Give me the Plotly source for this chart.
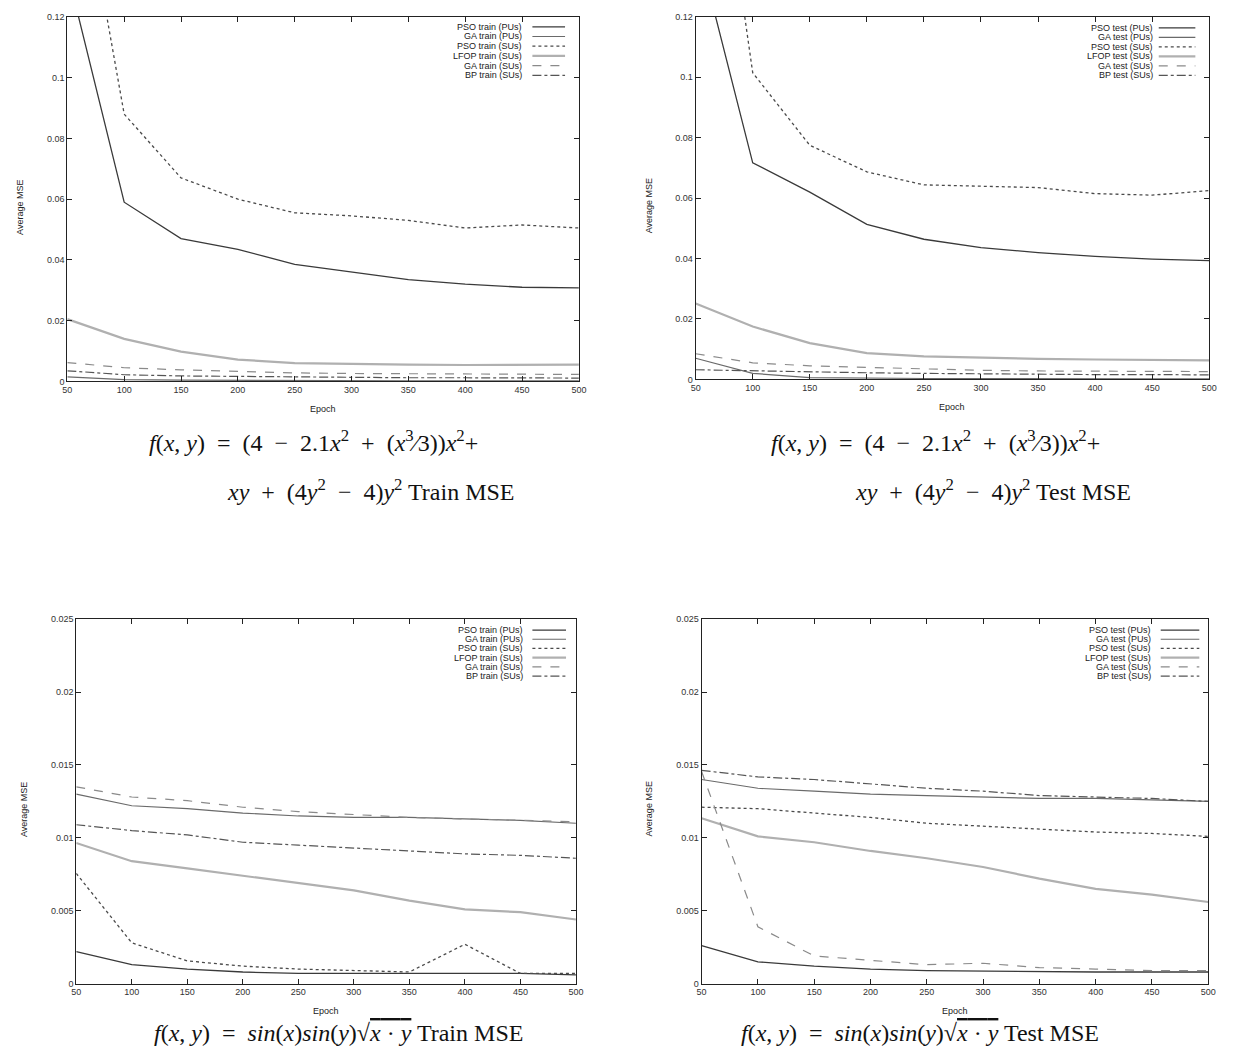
import plotly.graph_objects as go

W, H = 1237, 1057

epochs = [50, 100, 150, 200, 250, 300, 350, 400, 450, 500]
x_ticks = [50, 100, 150, 200, 250, 300, 350, 400, 450, 500]

top_y_ticks = [0, 0.02, 0.04, 0.06, 0.08, 0.1, 0.12]
top_y_text = ["0", "0.02", "0.04", "0.06", "0.08", "0.1", "0.12"]
bot_y_ticks = [0, 0.005, 0.01, 0.015, 0.02, 0.025]
bot_y_text = ["0", "0.005", "0.01", "0.015", "0.02", "0.025"]

# ---- Six-hump camel: train MSE ----
camel_train_pso_pu = [0.135, 0.059, 0.047, 0.0435, 0.0385, 0.036, 0.0335, 0.032, 0.031, 0.0308]
camel_train_ga_pu = [0.0015, 0.0006, 0.0004, 0.0003, 0.0003, 0.0002, 0.0002, 0.0002, 0.0002, 0.0002]
camel_train_pso_su = [0.193, 0.088, 0.067, 0.060, 0.0555, 0.0545, 0.053, 0.0505, 0.0515, 0.0505]
camel_train_lfop_su = [0.0205, 0.014, 0.0098, 0.0072, 0.006, 0.0057, 0.0055, 0.0054, 0.0054, 0.0055]
camel_train_ga_su = [0.0062, 0.0045, 0.0038, 0.0032, 0.0028, 0.0026, 0.0025, 0.0024, 0.0024, 0.0023]
camel_train_bp_su = [0.0035, 0.0022, 0.0018, 0.0016, 0.0014, 0.0013, 0.0012, 0.0012, 0.0011, 0.0011]

# ---- Six-hump camel: test MSE ----
camel_test_pso_pu = [0.146, 0.0717, 0.062, 0.0513, 0.0464, 0.0436, 0.042, 0.0407, 0.0398, 0.0393]
camel_test_ga_pu = [0.007, 0.002, 0.0006, 0.0004, 0.0003, 0.0003, 0.0002, 0.0002, 0.0002, 0.0002]
camel_test_pso_su = [0.234, 0.1015, 0.0775, 0.0687, 0.0644, 0.064, 0.0635, 0.0615, 0.061, 0.0625]
camel_test_lfop_su = [0.0251, 0.0175, 0.012, 0.0087, 0.0076, 0.0071, 0.0068, 0.0066, 0.0064, 0.0063]
camel_test_ga_su = [0.0085, 0.0055, 0.0045, 0.004, 0.0033, 0.003, 0.0028, 0.0027, 0.0026, 0.0026]
camel_test_bp_su = [0.0032, 0.0028, 0.0025, 0.0022, 0.002, 0.0018, 0.0017, 0.0016, 0.0016, 0.0015]

# ---- sin(x)sin(y)sqrt(xy): train MSE ----
sin_train_pso_pu = [0.0022, 0.0013, 0.001, 0.0008, 0.0007, 0.0007, 0.0007, 0.0007, 0.0007, 0.0006]
sin_train_ga_pu = [0.013, 0.0122, 0.012, 0.0117, 0.0115, 0.0114, 0.0114, 0.0113, 0.0112, 0.011]
sin_train_pso_su = [0.00756, 0.0028, 0.00156, 0.0012, 0.001, 0.0009, 0.0008, 0.0027, 0.0007, 0.0007]
sin_train_lfop_su = [0.00965, 0.0084, 0.0079, 0.0074, 0.0069, 0.0064, 0.0057, 0.0051, 0.0049, 0.0044]
sin_train_ga_su = [0.0135, 0.0128, 0.01255, 0.0121, 0.0118, 0.0116, 0.0114, 0.0113, 0.0112, 0.0111]
sin_train_bp_su = [0.0109, 0.0105, 0.0102, 0.0097, 0.0095, 0.0093, 0.0091, 0.0089, 0.0088, 0.0086]

# ---- sin(x)sin(y)sqrt(xy): test MSE ----
sin_test_pso_pu = [0.0026, 0.0015, 0.0012, 0.001, 0.0009, 0.00085, 0.0008, 0.0008, 0.0008, 0.0008]
sin_test_ga_pu = [0.014, 0.0134, 0.0132, 0.013, 0.0129, 0.0128, 0.0127, 0.0127, 0.0126, 0.0125]
sin_test_pso_su = [0.0121, 0.012, 0.0117, 0.0114, 0.011, 0.0108, 0.0106, 0.0104, 0.0103, 0.0101]
sin_test_lfop_su = [0.01134, 0.0101, 0.0097, 0.0091, 0.0086, 0.008, 0.0072, 0.0065, 0.0061, 0.0056]
sin_test_ga_su = [0.01455, 0.0039, 0.0019, 0.0016, 0.0013, 0.0014, 0.0011, 0.001, 0.0009, 0.0009]
sin_test_bp_su = [0.01463, 0.01418, 0.014, 0.0137, 0.0134, 0.0132, 0.0129, 0.0128, 0.0127, 0.0125]

train_names = ["PSO train (PUs)", "GA train (PUs)", "PSO train (SUs)",
               "LFOP train (SUs)", "GA train (SUs)", "BP train (SUs)"]
test_names = ["PSO test (PUs)", "GA test (PUs)", "PSO test (SUs)",
              "LFOP test (SUs)", "GA test (SUs)", "BP test (SUs)"]

styles = [
    dict(color="#3a3a3a", width=1.3, dash="solid"),
    dict(color="#6a6a6a", width=1.2, dash="solid"),
    dict(color="#4a4a4a", width=1.3, dash="dot"),
    dict(color="#b0b0b0", width=2.2, dash="solid"),
    dict(color="#8a8a8a", width=1.2, dash="dash"),
    dict(color="#555555", width=1.2, dash="dashdot"),
]

def px2x(px):
    return px / W

def py2y(py):
    return 1 - py / H

panels = [
    dict(ax="", dom_x=(63, 580), dom_y=(12, 380), yr=0.12, yt=top_y_ticks, ytt=top_y_text,
         names=train_names,
         data=[camel_train_pso_pu, camel_train_ga_pu, camel_train_pso_su,
               camel_train_lfop_su, camel_train_ga_su, camel_train_bp_su],
         leg_text_x=525, leg_s0=533, leg_s1=566, leg_y0=22, leg_dy=9.8, ylab_x=15),
    dict(ax="2", dom_x=(698, 1217), dom_y=(12, 378), yr=0.12, yt=top_y_ticks, ytt=top_y_text,
         names=test_names,
         data=[camel_test_pso_pu, camel_test_ga_pu, camel_test_pso_su,
               camel_test_lfop_su, camel_test_ga_su, camel_test_bp_su],
         leg_text_x=1162, leg_s0=1166, leg_s1=1203, leg_y0=23, leg_dy=9.6, ylab_x=651),
    dict(ax="3", dom_x=(72, 577), dom_y=(620, 988), yr=0.025, yt=bot_y_ticks, ytt=bot_y_text,
         names=train_names,
         data=[sin_train_pso_pu, sin_train_ga_pu, sin_train_pso_su,
               sin_train_lfop_su, sin_train_ga_su, sin_train_bp_su],
         leg_text_x=526, leg_s0=533, leg_s1=567, leg_y0=631, leg_dy=9.3, ylab_x=20),
    dict(ax="4", dom_x=(704, 1216), dom_y=(620, 988), yr=0.025, yt=bot_y_ticks, ytt=bot_y_text,
         names=test_names,
         data=[sin_test_pso_pu, sin_test_ga_pu, sin_test_pso_su,
               sin_test_lfop_su, sin_test_ga_su, sin_test_bp_su],
         leg_text_x=1160, leg_s0=1168, leg_s1=1207, leg_y0=631, leg_dy=9.3, ylab_x=651),
]

fig = go.Figure()
annotations = []
shapes = []
small_font = dict(family="Liberation Sans, Arial, sans-serif", size=9, color="#222")
tick_font = dict(family="Liberation Sans, Arial, sans-serif", size=9, color="#333")
axis_common = dict(showline=True, linecolor="#222", linewidth=1, mirror="ticks",
                   ticks="inside", ticklen=5, tickcolor="#222", showgrid=False,
                   zeroline=False, tickfont=tick_font)

layout = {}
for p in panels:
    a = p["ax"]
    xa = "xaxis" + a
    ya = "yaxis" + a
    layout[xa] = dict(domain=[px2x(p["dom_x"][0]), px2x(p["dom_x"][1])], range=[50, 500],
                      tickvals=x_ticks, anchor="y" + a, **axis_common)
    layout[ya] = dict(domain=[py2y(p["dom_y"][1]), py2y(p["dom_y"][0])], range=[0, p["yr"]],
                      tickvals=p["yt"], ticktext=p["ytt"], anchor="x" + a, **axis_common)
    for name, vals, st in zip(p["names"], p["data"], styles):
        fig.add_trace(go.Scatter(x=epochs, y=vals, mode="lines", name=name,
                                 line=st, xaxis="x" + a, yaxis="y" + a,
                                 showlegend=False, cliponaxis=True))
    # gnuplot-style key: text right-aligned, line sample to its right
    for i, (name, st) in enumerate(zip(p["names"], styles)):
        yy = p["leg_y0"] + i * p["leg_dy"]
        annotations.append(dict(x=px2x(p["leg_text_x"]), y=py2y(yy), xref="paper", yref="paper",
                                text=name, showarrow=False, xanchor="right", yanchor="middle",
                                font=small_font))
        shapes.append(dict(type="line", xref="paper", yref="paper",
                           x0=px2x(p["leg_s0"]), x1=px2x(p["leg_s1"]),
                           y0=py2y(yy), y1=py2y(yy), line=st))
    cx = (p["dom_x"][0] + p["dom_x"][1]) / 2
    cy = (p["dom_y"][0] + p["dom_y"][1]) / 2
    annotations.append(dict(x=px2x(cx), y=py2y(p["dom_y"][1] + 28), xref="paper", yref="paper",
                            text="Epoch", showarrow=False, xanchor="center", yanchor="middle",
                            font=small_font))
    annotations.append(dict(x=px2x(p["ylab_x"]), y=py2y(cy + 8), xref="paper", yref="paper",
                            text="Average MSE", showarrow=False, textangle=-90,
                            xanchor="center", yanchor="middle", font=small_font))

cap_font = dict(family="Liberation Serif, Times New Roman, serif", size=24, color="#111")
S = "\u2002"  # en space, mimicking TeX operator spacing
camel1 = (f"<i>f</i>(<i>x</i>, <i>y</i>){S}={S}(4{S}−{S}2.1<i>x</i><sup>2</sup>{S}+{S}"
          f"(<i>x</i><sup>3</sup>⁄3))<i>x</i><sup>2</sup>+")
camel2 = f"<i>xy</i>{S}+{S}(4<i>y</i><sup>2</sup>{S}−{S}4)<i>y</i><sup>2</sup> "
sinf = (f"<i>f</i>(<i>x</i>, <i>y</i>){S}={S}<i>sin</i>(<i>x</i>)<i>sin</i>(<i>y</i>)√"
        f"<span style='text-decoration:overline'><i>x</i> · <i>y</i></span> ")
captions = [
    (312, 440, camel1),
    (370, 490, camel2 + "Train MSE"),
    (940, 440, camel1),
    (998, 490, camel2 + "Test MSE"),
    (337, 1038, sinf + "Train MSE"),
    (925, 1038, sinf + "Test MSE"),
]
for cx, cy, txt in captions:
    annotations.append(dict(x=px2x(cx), y=py2y(cy), xref="paper", yref="paper", text=txt,
                            showarrow=False, xanchor="center", yanchor="middle", font=cap_font))

fig.update_layout(
    width=W, height=H,
    margin=dict(l=0, r=0, t=0, b=0),
    paper_bgcolor="white", plot_bgcolor="white",
    showlegend=False,
    annotations=annotations, shapes=shapes,
    **layout,
)

fig.write_html("out.html")
